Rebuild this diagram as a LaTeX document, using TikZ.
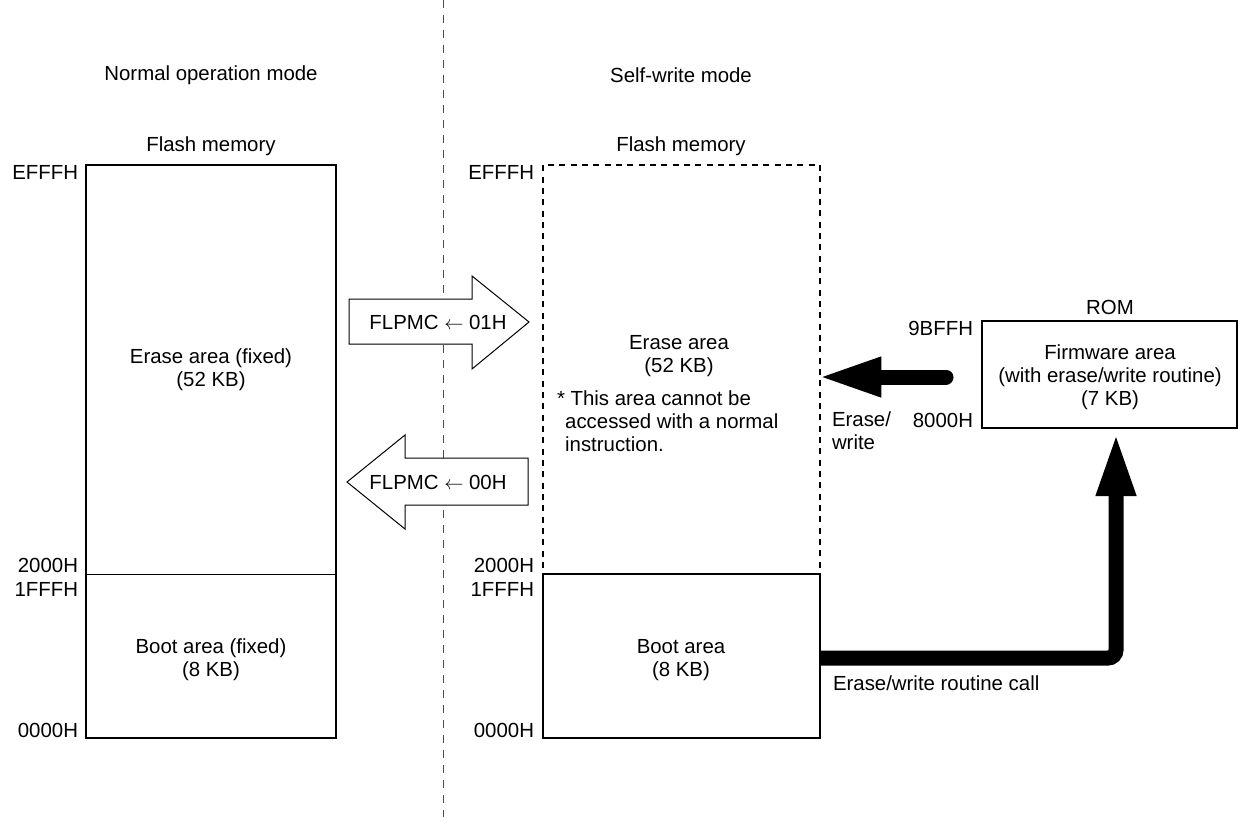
\documentclass[tikz,border=0pt]{standalone}
\usepackage{fontspec}
\setmainfont{Liberation Sans}
\usetikzlibrary{arrows.meta}
\begin{document}
\begin{tikzpicture}[x=0.75pt,y=-0.75pt,
  every node/.style={font=\fontsize{15.3}{17.3}\selectfont, inner sep=0pt, outer sep=0pt},
  membox/.style={draw, line width=1.5pt, rectangle, anchor=north west},
  dashbox/.style={membox, dash pattern=on 4.5pt off 4pt},
  addr/.style={anchor=east},
  txt/.style={align=center},
  blockarrow/.style={draw, line width=0.75pt, fill=white, line join=miter},
  bigarrow/.style={line width=11.25pt, -{Triangle[length=48pt,width=27pt]}},
  divider/.style={draw=black!70, line width=0.75pt, dash pattern=on 6pt off 5.25pt}]
\path[use as bounding box] (0,0) rectangle (1252,817);

% mode divider
\draw[divider] (443,0) -- (443,817);

% titles
\node (t1) at (211,75) {Normal operation mode};
\node (t2) at (681,75) {Self-write mode};
\node (fm1) at (211,146) {Flash memory};
\node (fm2) at (681,146) {Flash memory};

% left flash memory
\node[membox, minimum width=187.5pt, minimum height=429.75pt] (flashL) at (86,165) {};
\draw[line width=0.75pt] (86,574) -- (336,574);
\node[txt] (eraseLt) at (211,370) {Erase area (fixed)\\(52 KB)};
\node[txt] (bootLt) at (211,660) {Boot area (fixed)\\(8 KB)};
\node[addr] (aL1) at (78,172.5) {EFFFH};
\node[addr] (aL2) at (78,565.5) {2000H};
\node[addr] (aL3) at (78,589) {1FFFH};
\node[addr] (aL4) at (78,730.5) {0000H};

% right flash memory
\node[dashbox, minimum width=207.75pt, minimum height=306.75pt] (eraseR) at (543,165) {};
\node[membox, minimum width=207.75pt, minimum height=123pt] (bootR) at (543,574) {};
\node[txt] (eraseRt) at (679,356) {Erase area\\(52 KB)};
\node[align=left, anchor=west] (note) at (557,421) {*~This area cannot be\\\hspace{0.4em}accessed with a normal\\\hspace{0.4em}instruction.};
\node[txt] (bootRt) at (681,660) {Boot area\\(8 KB)};
\node[addr] (aR1) at (534,172.5) {EFFFH};
\node[addr] (aR2) at (534,565.5) {2000H};
\node[addr] (aR3) at (534,589) {1FFFH};
\node[addr] (aR4) at (534,730.5) {0000H};

% ROM
\node (romt) at (1110,307) {ROM};
\node[membox, minimum width=191.25pt, minimum height=80.25pt] (rom) at (982,321) {};
\node[txt] (fw) at (1110,377) {Firmware area\\(with erase/write routine)\\(7 KB)};
\node[addr] (a9) at (973,328.5) {9BFFH};
\node[addr] (a8) at (973,420.5) {8000H};

% block arrows
\draw[blockarrow] (349,299) -- (472,299) -- (472,276) -- (529,322) -- (472,369) -- (472,344) -- (349,344) -- cycle;
\node (f1) at (438,322) {FLPMC $\leftarrow$ 01H};
\draw[blockarrow] (528,458) -- (405,458) -- (405,435) -- (347,482) -- (405,529) -- (405,505) -- (528,505) -- cycle;
\node (f0) at (438,482) {FLPMC $\leftarrow$ 00H};

% erase/write arrow
\coordinate (w1) at (946,377);
\draw[bigarrow, line cap=round, shorten >=-2pt] (w1) -- (eraseR.east |- w1);
\node[align=left, anchor=north west] (ew) at (832,412) {Erase/\\write};

% routine call arrow
\coordinate (c1) at (1116,658);
\draw[bigarrow, rounded corners=6pt, shorten >=3pt] (bootR.east |- c1) -- (c1) -- (c1 |- rom.south);
\node[anchor=west] (call) at (833,683) {Erase/write routine call};
\end{tikzpicture}
\end{document}
